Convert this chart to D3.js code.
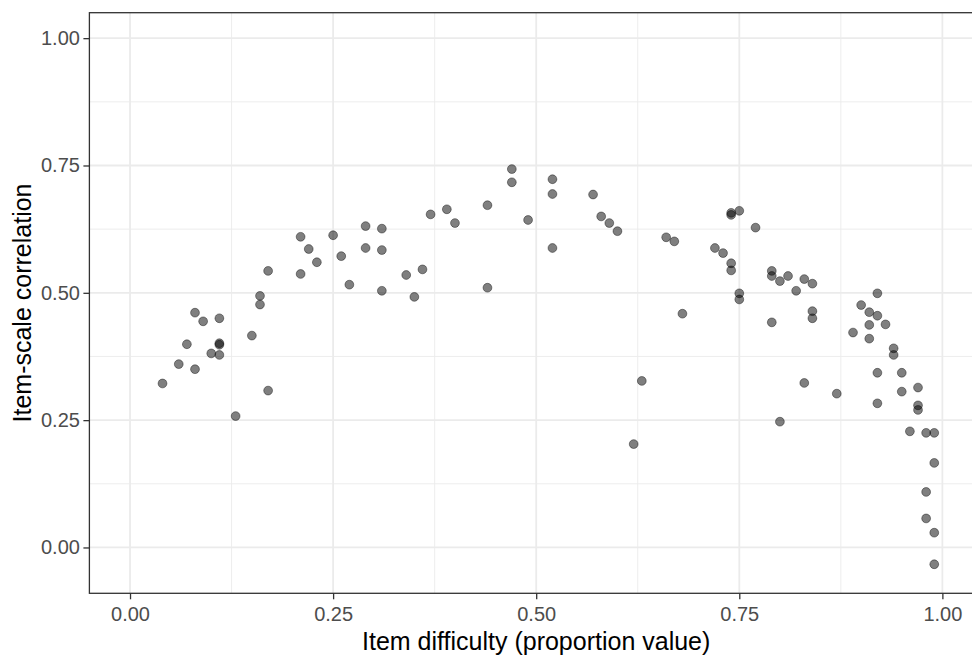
<!DOCTYPE html>
<html>
<head>
<meta charset="utf-8">
<script src="https://cdn.jsdelivr.net/npm/d3@7"></script>
<style>
  body { margin: 0; background: #fff; }
  svg { display: block; font-family: "Liberation Sans", Arial, sans-serif; }
</style>
</head>
<body>
<div id="chart"></div>
<script>
// item difficulty (x) and item-scale correlation (y)
const difficulty = [
    0.04, 0.06, 0.07, 0.08, 0.08, 0.09, 0.10, 0.11, 0.11, 0.11, 0.11, 0.13, 0.15, 0.16, 0.16, 0.17, 0.17,
    0.21, 0.21, 0.22, 0.23, 0.25, 0.26, 0.27, 0.29, 0.29, 0.31, 0.31, 0.31, 0.34, 0.35, 0.36, 0.37, 0.39, 0.40,
    0.44, 0.44, 0.47, 0.47, 0.49, 0.52, 0.52, 0.52, 0.57, 0.58, 0.59, 0.60, 0.62, 0.63, 0.66, 0.67, 0.68,
    0.72, 0.73, 0.74, 0.74, 0.74, 0.74, 0.75, 0.75, 0.75, 0.77, 0.79, 0.79, 0.79, 0.80, 0.80, 0.81, 0.82,
    0.83, 0.83, 0.84, 0.84, 0.84, 0.87, 0.89, 0.90, 0.91, 0.91, 0.91, 0.92, 0.92, 0.92, 0.92, 0.93, 0.94, 0.94,
    0.95, 0.95, 0.96, 0.97, 0.97, 0.97, 0.98, 0.98, 0.98, 0.99, 0.99, 0.99, 0.99
];
const correlation = [
    0.322, 0.360, 0.399, 0.461, 0.350, 0.444, 0.381, 0.450, 0.401, 0.398, 0.378, 0.258, 0.416, 0.494, 0.477, 0.543, 0.308,
    0.537, 0.610, 0.586, 0.560, 0.613, 0.572, 0.516, 0.631, 0.588, 0.626, 0.584, 0.504, 0.535, 0.492, 0.546, 0.654, 0.664, 0.637,
    0.672, 0.510, 0.743, 0.717, 0.643, 0.723, 0.694, 0.588, 0.693, 0.650, 0.637, 0.621, 0.203, 0.327, 0.609, 0.601, 0.459,
    0.588, 0.578, 0.657, 0.653, 0.558, 0.544, 0.661, 0.499, 0.487, 0.628, 0.543, 0.533, 0.442, 0.523, 0.247, 0.533, 0.504,
    0.527, 0.323, 0.518, 0.464, 0.450, 0.302, 0.422, 0.476, 0.462, 0.437, 0.410, 0.499, 0.455, 0.343, 0.283, 0.438, 0.391, 0.378,
    0.343, 0.306, 0.228, 0.314, 0.279, 0.270, 0.225, 0.109, 0.057, 0.225, 0.166, 0.029, -0.033
];
const xTicks = [0, 0.25, 0.5, 0.75, 1];
const yTicks = [0, 0.25, 0.5, 0.75, 1];
const xMinor = [0.125, 0.375, 0.625, 0.875];
const yMinor = [0.125, 0.375, 0.625, 0.875];

const width = 972, height = 655;
const panel = {left: 89.4, right: 983, top: 12.7, bottom: 593.3};

let svg = d3.select("#chart").append("svg")
    .attr("width", width)
    .attr("height", height);

let x = d3.scaleLinear().domain([-0.05, 1.05]).range([panel.left, panel.right]);
let y = d3.scaleLinear().domain([-0.09, 1.05]).range([panel.bottom, panel.top]);

// grid
let grid = svg.append("g");
grid.selectAll(".minor-x").data(xMinor).enter().append("line")
    .attr("x1", d => x(d)).attr("x2", d => x(d))
    .attr("y1", panel.top).attr("y2", panel.bottom)
    .attr("stroke", "#ebebeb").attr("stroke-width", 0.9);
grid.selectAll(".minor-y").data(yMinor).enter().append("line")
    .attr("y1", d => y(d)).attr("y2", d => y(d))
    .attr("x1", panel.left).attr("x2", panel.right)
    .attr("stroke", "#ebebeb").attr("stroke-width", 0.9);
grid.selectAll(".major-x").data(xTicks).enter().append("line")
    .attr("x1", d => x(d)).attr("x2", d => x(d))
    .attr("y1", panel.top).attr("y2", panel.bottom)
    .attr("stroke", "#ebebeb").attr("stroke-width", 1.8);
grid.selectAll(".major-y").data(yTicks).enter().append("line")
    .attr("y1", d => y(d)).attr("y2", d => y(d))
    .attr("x1", panel.left).attr("x2", panel.right)
    .attr("stroke", "#ebebeb").attr("stroke-width", 1.8);

// points
svg.append("g").selectAll("circle")
    .data(difficulty.map((d, i) => [d, correlation[i]]))
    .enter().append("circle")
    .attr("cx", d => x(d[0]))
    .attr("cy", d => y(d[1]))
    .attr("r", 4.4)
    .attr("fill", "rgba(0,0,0,0.5)")
    .attr("stroke", "rgba(0,0,0,0.45)")
    .attr("stroke-width", 0.9);

// panel border
svg.append("rect")
    .attr("x", panel.left).attr("y", panel.top)
    .attr("width", panel.right - panel.left).attr("height", panel.bottom - panel.top)
    .attr("fill", "none").attr("stroke", "#333").attr("stroke-width", 1.3);

// axes
let fmt = d3.format(".2f");
let xAxis = svg.append("g")
    .attr("transform", `translate(0,${panel.bottom})`)
    .call(d3.axisBottom(x).tickValues(xTicks).tickFormat(fmt).tickSize(6).tickPadding(8));
let yAxis = svg.append("g")
    .attr("transform", `translate(${panel.left},0)`)
    .call(d3.axisLeft(y).tickValues(yTicks).tickFormat(fmt).tickSize(6).tickPadding(3.5));
[xAxis, yAxis].forEach(function(a) {
    a.select(".domain").remove();
    a.selectAll(".tick line").attr("stroke", "#333").attr("stroke-width", 1.3);
    a.selectAll(".tick text")
        .attr("fill", "#4d4d4d")
        .style("font-size", "20px")
        .style("font-family", "'Liberation Sans', Arial, sans-serif");
});

// titles
svg.append("text")
    .attr("x", (panel.left + panel.right) / 2)
    .attr("y", 650)
    .attr("text-anchor", "middle")
    .style("font-size", "25px")
    .text("Item difficulty (proportion value)");

svg.append("text")
    .attr("transform", `translate(31,${(panel.top + panel.bottom) / 2}) rotate(-90)`)
    .attr("text-anchor", "middle")
    .style("font-size", "25px")
    .text("Item-scale correlation");
</script>
</body>
</html>
